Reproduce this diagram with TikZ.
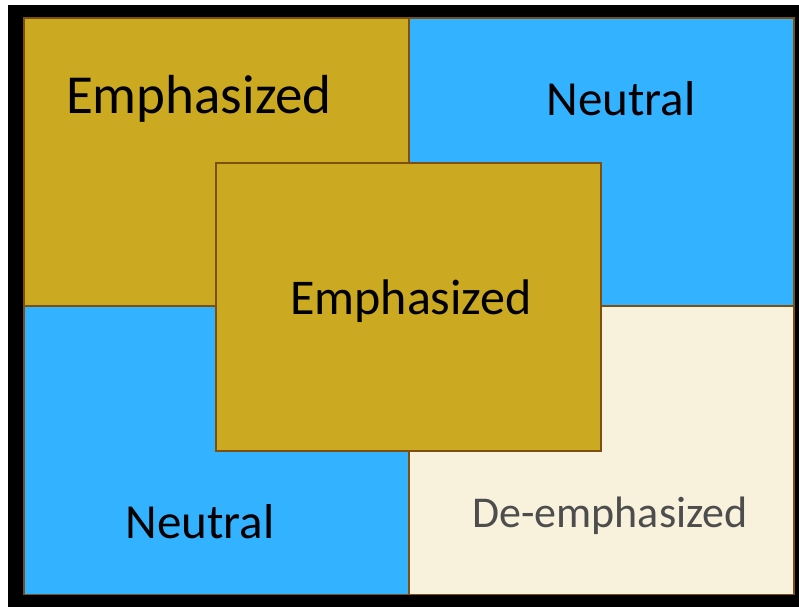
\documentclass[tikz,border=0pt]{standalone}
\usepackage{fontspec}
\setmainfont{Carlito}
\usetikzlibrary{positioning}
\definecolor{gold}{HTML}{CBA920}
\definecolor{skyblue}{HTML}{33B3FF}
\definecolor{cream}{HTML}{F8F1DC}
\definecolor{edge}{HTML}{7F4F10}
\definecolor{greytext}{HTML}{4D4D4D}
\tikzstyle{every node}+=[inner sep=0pt]
\tikzstyle{cell} = [rectangle, draw=edge, line width=1.5pt, minimum width=385pt, minimum height=288pt]
\tikzstyle{word} = [font=\fontsize{55}{60}\selectfont, text=black]

\begin{document}
\begin{tikzpicture}[x=1pt, y=-1pt]
          \useasboundingbox (0,0) rectangle (799,607);
          % Frame
          \fill [black] (8,5) rectangle (799,607);
          % Place cells
          \node [cell, fill=gold] (tl) at (216.5,162) {};
          \node [cell, fill=skyblue] (tr) at (601.5,162) {};
          \node [cell, fill=skyblue] (bl) at (216.5,450.5) {};
          \node [cell, fill=cream] (br) at (601.5,450.5) {};
          \node [cell, fill=gold] (mid) at (408.5,307) {};
          % Place words
          \node [word] (ttl) at (199,99) {Emphasized};
          \node [word, font=\fontsize{49}{54}\selectfont] (ttr) at (621,99) {Neutral};
          \node [word, font=\fontsize{50}{54}\selectfont] (tmid) at (411,301) {Emphasized};
          \node [word, font=\fontsize{49}{54}\selectfont] (tbl) at (200,522) {Neutral};
          \node [word, font=\fontsize{44}{48}\selectfont, text=greytext] (tbr) at (610,516) {De-emphasized};
        \end{tikzpicture}
\end{document}
